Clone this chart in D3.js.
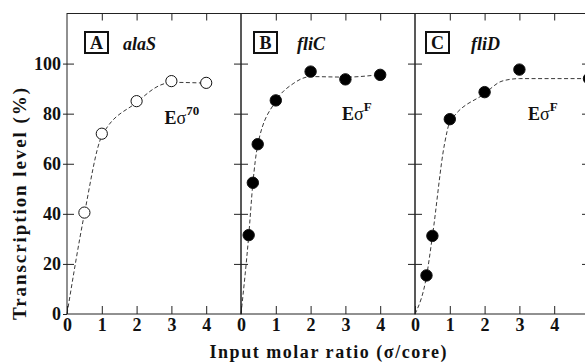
<!DOCTYPE html>
<html><head><meta charset="utf-8">
<script src="https://cdn.jsdelivr.net/npm/d3@7"></script>
<style>
html,body{margin:0;padding:0;background:#fff;}
svg text{font-family:"Liberation Serif","Times New Roman",serif;fill:#111;}
</style></head>
<body><svg id="c" width="585" height="363"></svg>
<script>
// ---- data ----
const xTicks = [0, 1, 2, 3, 4];
const yTicks = [0, 20, 40, 60, 80, 100];
const panelLetters = ["A", "B", "C"];
const genes = ["alaS", "fliC", "fliD"];
const sigmaSup = ["70", "F", "F"];
const filled = [false, true, true];

const ratioA = [0.5, 1, 2, 3, 4];
const levelA = [40.5, 72, 85, 93, 92.3];
const ratioB = [0.22, 0.34, 0.48, 1, 2, 3, 4];
const levelB = [31.5, 52.4, 67.8, 85.3, 96.8, 93.7, 95.5];
const ratioC = [0.33, 0.5, 1, 2, 3, 5];
const levelC = [15.4, 31.2, 77.8, 88.6, 97.6, 94];

// dashed fitted curves
const fitRatioA = [0, 0.5, 1, 2, 2.7, 3, 4];
const fitLevelA = [0, 40, 71, 84.5, 91.5, 92.5, 92.2];
const fitRatioB = [0, 0.22, 0.34, 0.48, 1, 1.5, 2, 3, 4];
const fitLevelB = [0, 31, 52, 67.5, 85, 92, 94.8, 94.6, 95.6];
const fitRatioC = [0, 0.33, 0.5, 0.85, 1, 2, 2.5, 3, 5];
const fitLevelC = [0, 15, 31, 68, 76.5, 88, 93, 94, 94];

const ratios = [ratioA, ratioB, ratioC];
const levels = [levelA, levelB, levelC];
const fitR = [fitRatioA, fitRatioB, fitRatioC];
const fitL = [fitLevelA, fitLevelB, fitLevelC];

// ---- layout ----
const svg = d3.select("#c");
const panelW = 174, firstX = 67, plotTop = 13.5, plotBottom = 314;
const y = d3.scaleLinear().domain([0, 120]).range([plotBottom, plotTop]);
const stroke = "#222";
const sigmaPos = [[2.8, 76], [2.9, 77.3], [3.25, 77.3]];
const boxOffset = [18, 13, 11];

panelLetters.forEach((L, i) => {
  const x0 = firstX + i * panelW;
  const x = d3.scaleLinear().domain([0, 5]).range([x0, x0 + panelW]);
  const g = svg.append("g");

  g.append("rect").attr("x", x0).attr("y", plotTop).attr("width", panelW)
    .attr("height", plotBottom - plotTop).attr("fill", "none")
    .attr("stroke", stroke).attr("stroke-width", 1);

  const bx = d3.axisBottom(x).tickValues(xTicks).tickSize(-8).tickPadding(4)
    .tickFormat(d3.format("d"));
  const ga = g.append("g").attr("transform", `translate(0,${plotBottom})`).call(bx);
  ga.select(".domain").remove();
  ga.selectAll("line").attr("stroke", stroke);
  ga.selectAll("text").attr("font-size", 18).attr("font-weight", "bold")
    .attr("font-family", "Liberation Serif").attr("fill", "#111");

  const tx = d3.axisTop(x).tickValues(xTicks.slice(1)).tickSize(-7).tickFormat("");
  const gt = g.append("g").attr("transform", `translate(0,${plotTop})`).call(tx);
  gt.select(".domain").remove();
  gt.selectAll("line").attr("stroke", stroke);

  const ly = d3.axisLeft(y).tickValues(yTicks.slice(1)).tickSize(-7).tickFormat("");
  const gl = g.append("g").attr("transform", `translate(${x0},0)`).call(ly);
  gl.select(".domain").remove();
  gl.selectAll("line").attr("stroke", stroke);

  const ry = d3.axisRight(y).tickValues(yTicks.slice(1)).tickSize(-7).tickFormat("");
  const gr = g.append("g").attr("transform", `translate(${x0 + panelW},0)`).call(ry);
  gr.select(".domain").remove();
  gr.selectAll("line").attr("stroke", stroke);

  if (i === 0) {
    const oy = d3.axisLeft(y).tickValues(yTicks).tickSize(4).tickPadding(2)
      .tickFormat(d3.format("d"));
    const go = g.append("g").attr("transform", `translate(${x0},0)`).call(oy);
    go.select(".domain").remove();
    go.selectAll("line").attr("stroke", stroke);
    go.selectAll("text").attr("font-size", 18).attr("font-weight", "bold")
      .attr("font-family", "Liberation Serif").attr("fill", "#111");
  }

  const pts = fitR[i].map((r, k) => [r, fitL[i][k]]);
  const line = d3.line().x(d => x(d[0])).y(d => y(d[1])).curve(d3.curveMonotoneX);
  g.append("path").attr("d", line(pts)).attr("fill", "none")
    .attr("stroke", "#222").attr("stroke-width", 0.9).attr("stroke-dasharray", "4,2.5");

  const data = ratios[i].map((r, k) => [r, levels[i][k]]);
  g.selectAll("circle.p").data(data).enter().append("circle")
    .attr("cx", d => x(d[0])).attr("cy", d => y(d[1]))
    .attr("r", filled[i] ? 5.7 : 5.6)
    .attr("fill", filled[i] ? "#000" : "#fff")
    .attr("stroke", "#111").attr("stroke-width", 1);

  const bxX = x0 + boxOffset[i], bxY = 32;
  g.append("rect").attr("x", bxX).attr("y", bxY).attr("width", 23).attr("height", 21)
    .attr("fill", "none").attr("stroke", "#111").attr("stroke-width", 2);
  g.append("text").attr("x", bxX + 11.5).attr("y", bxY + 17).attr("text-anchor", "middle")
    .attr("font-size", 18).attr("font-weight", "bold").text(L);
  g.append("text").attr("x", x0 + 56).attr("y", 50).attr("font-size", 18)
    .attr("font-weight", "bold").attr("font-style", "italic").text(genes[i]);

  const sp = sigmaPos[i];
  const t = g.append("text").attr("x", x(sp[0])).attr("y", y(sp[1])).attr("font-size", 18);
  t.append("tspan").attr("font-weight", "bold").text("E");
  t.append("tspan").text("σ");
  t.append("tspan").attr("font-size", 13).attr("font-weight", "bold").attr("dy", -9).text(sigmaSup[i]);
});

svg.append("text").attr("transform", "translate(26,204) rotate(-90)")
  .attr("text-anchor", "middle").attr("font-size", 19).attr("font-weight", "bold")
  .attr("textLength", 232).attr("lengthAdjust", "spacing")
  .text("Transcription level (%)");
svg.append("text").attr("x", 328).attr("y", 358).attr("text-anchor", "middle")
  .attr("font-size", 18).attr("font-weight", "bold")
  .attr("textLength", 237).attr("lengthAdjust", "spacing")
  .text("Input molar ratio (σ/core)");
</script></body></html>
